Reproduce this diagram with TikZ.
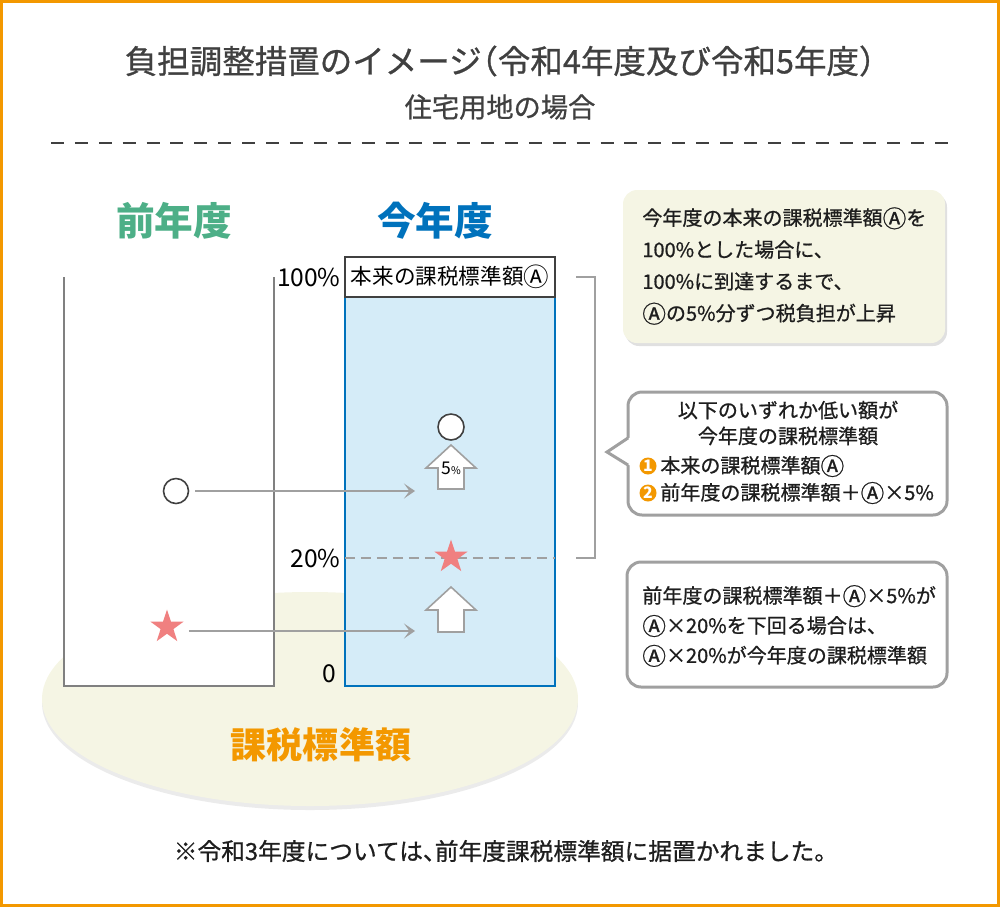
\documentclass[tikz,border=0pt]{standalone}
\usepackage{fontspec}
\setmainfont{Noto Sans CJK JP}
\newfontfamily\jpmed{Noto Sans CJK JP}[FakeBold=0.8]
\usetikzlibrary{arrows.meta,shapes.geometric}
\definecolor{frameorange}{RGB}{243,152,0}
\definecolor{titlegray}{RGB}{64,64,64}
\definecolor{prevgreen}{RGB}{77,175,135}
\definecolor{curblue}{RGB}{0,114,188}
\definecolor{paleblue}{RGB}{213,236,248}
\definecolor{cream}{RGB}{245,245,228}
\definecolor{linegray}{RGB}{160,160,160}
\definecolor{boxgray}{RGB}{128,128,128}
\definecolor{starpink}{RGB}{240,128,128}
\definecolor{inkblack}{RGB}{30,30,30}
\newcommand{\ca}{\raisebox{-0.1em}{\scalebox{1.18}{Ⓐ}}}

\begin{document}
\begin{tikzpicture}[x=0.02cm,y=-0.02cm,>={Stealth[length=2.2mm,width=3mm,inset=1.1mm]},
  every node/.style={inner sep=0pt},
  boxtext/.style={text=inkblack,font=\jpmed\fontsize{11.4}{18.1}\selectfont},
  marker/.style={circle,draw=titlegray,fill=white,line width=0.9pt,minimum size=0.5cm},
  pinkstar/.style={star,star points=5,star point ratio=2.6,fill=starpink,minimum size=0.7cm},
  numdot/.style={circle,fill=frameorange,text=white,font=\bfseries\fontsize{9}{9}\selectfont,minimum size=0.34cm},
  level/.style={anchor=east,text=black,font=\fontsize{14}{16}\selectfont},
  bubble/.style={draw=linegray,fill=white,line width=1.7pt,rounded corners=8pt}]
\useasboundingbox (0,0) rectangle (1000,907);
\draw[frameorange, line width=1.7pt] (1.5,1.5) rectangle (998.5,905.5);
\node[text=titlegray, font=\jpmed\fontsize{18.5}{22}\selectfont\addfontfeature{RawFeature=+halt}] (title) at (500,61) {負担調整措置のイメージ（令和4年度及び令和5年度）};
\node[text=titlegray, font=\jpmed\fontsize{15.5}{18}\selectfont] (subtitle) at (500,107) {住宅用地の場合};
\draw[titlegray, line width=1.1pt, dash pattern=on 7.4pt off 6.2pt] (51,143) -- (950,143);
\fill[black!8] (310,703) ellipse [x radius=268, y radius=107];
\fill[cream] (310,699) ellipse [x radius=268, y radius=107];
\node[text=frameorange, font=\bfseries\fontsize{20.5}{24}\selectfont] (base) at (321,745) {課税標準額};
\node[text=prevgreen, font=\bfseries\fontsize{22}{26}\selectfont] (prev) at (174,221) {前年度};
\node[text=curblue, font=\bfseries\fontsize{22}{26}\selectfont] (cur) at (435,221) {今年度};
\draw[boxgray, fill=white, line width=1.4pt] (64,277) -- (64,686) -- (274,686) -- (274,277);
\draw[curblue, fill=paleblue, line width=1.1pt] (345,297) rectangle (555,686);
\node[draw=titlegray, fill=white, line width=1.1pt, minimum width=4.2cm, minimum height=0.8cm, text=black, font=\fontsize{12.3}{14}\selectfont] (full) at (450,277) {本来の課税標準額\ca};
\node[level] (p100) at (341,277) {100\%};
\node[level] (p20) at (341,558) {20\%};
\node[level] (p0) at (336,674) {0};
\draw[linegray, line width=1.2pt, dash pattern=on 5.7pt off 3.4pt] (345,558) -- (555,558);
\draw[linegray, line width=1.2pt] (576,277) -- (595,277) -- (595,558) -- (576,558);
\foreach \yt/\yb in {445/489,587/632}
  \draw[linegray, fill=white, line width=0.9pt] (451,\yt) -- (476,\yt+23) -- (464,\yt+23) -- (464,\yb) -- (438,\yb) -- (438,\yt+23) -- (426,\yt+23) -- cycle;
\node[text=black, font=\fontsize{10}{12}\selectfont] (five) at (451,468) {5{\fontsize{6}{7}\selectfont\%}};
\node[marker, minimum size=0.52cm] (newcirc) at (451,427) {};
\node[pinkstar] (newstar) at (451,557) {};
\node[marker] (oldcirc) at (176,491) {};
\node[pinkstar] (oldstar) at (167,627) {};
\coordinate (circend) at (415,491);
\coordinate (starend) at (415,631);
\draw[->, linegray, line width=1.2pt, shorten <=3.4pt] (oldcirc) -- (circend);
\draw[->, linegray, line width=1.2pt, shorten <=6.8pt] (oldstar.east |- starend) -- (starend);
\fill[black!12, rounded corners=8pt] (625,193) rectangle (947,346);
\fill[cream, rounded corners=8pt] (623,190) rectangle (945,343);
\node[boxtext, anchor=west, align=left] (note1) at (642,266) {今年度の本来の課税標準額\ca を\\100\%とした場合に、\\100\%に到達するまで、\\\ca の5\%分ずつ税負担が上昇};
\draw[bubble] (628,392) rectangle (947,515);
\fill[white] (631,437) -- (607,452) -- (631,466) -- cycle;
\draw[linegray, line width=1.7pt, line join=miter] (628,438) -- (607,452) -- (628,465);
\node[boxtext, align=center, font=\jpmed\fontsize{11.4}{14.7}\selectfont] (note2) at (788,423) {以下のいずれか低い額が\\今年度の課税標準額};
\node[numdot] (n1) at (648,466) {1};
\node[boxtext, anchor=west] (case1) at (660,466) {本来の課税標準額\ca};
\node[numdot] (n2) at (648,493) {2};
\node[boxtext, anchor=west] (case2) at (660,493) {前年度の課税標準額＋\ca ×5\%};
\draw[bubble] (627,562) rectangle (947,687);
\node[boxtext, anchor=west, align=left, font=\jpmed\fontsize{11.4}{17}\selectfont] (note3) at (642,626) {前年度の課税標準額＋\ca ×5\%が\\\ca ×20\%を下回る場合は、\\\ca ×20\%が今年度の課税標準額};
\node[text=inkblack, font=\jpmed\fontsize{13.5}{16}\selectfont\addfontfeature{RawFeature=+halt}] (foot) at (500,851) {※令和3年度については、前年度課税標準額に据置かれました。};
\end{tikzpicture}
\end{document}
